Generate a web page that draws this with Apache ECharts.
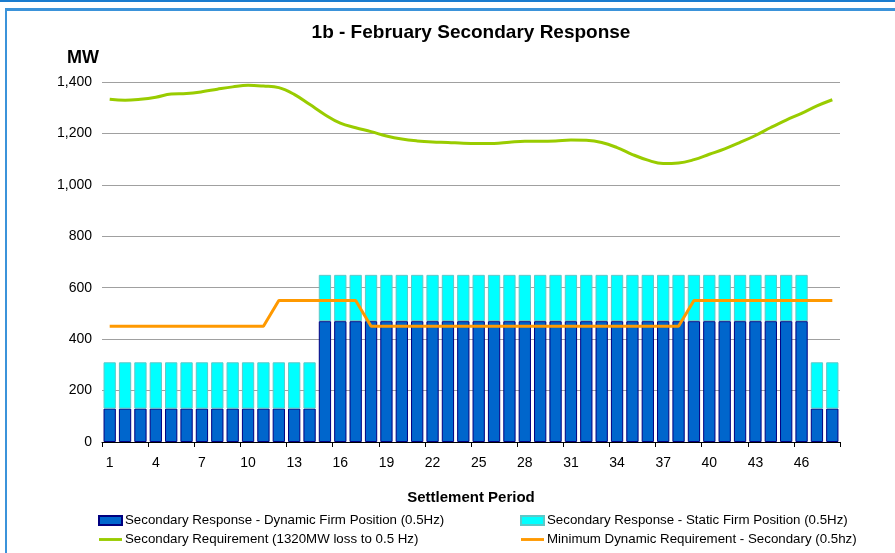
<!DOCTYPE html>
<html>
<head>
<meta charset="utf-8">
<script src="https://cdn.jsdelivr.net/npm/echarts@6/dist/echarts.min.js"></script>
<style>
  html, body { margin: 0; padding: 0; background: #fff; }
  #chart { width: 895px; height: 553px; }
</style>
</head>
<body>
<div id="chart"></div>
<script>
// settlement periods 1..48
const periods = []
for (let i = 1; i <= 48; i++) periods.push(String(i))

const dynamicFirm = [
  130, 130, 130, 130, 130, 130, 130, 130, 130, 130, 130, 130, 130, 130,
  470, 470, 470, 470, 470, 470, 470, 470, 470, 470, 470, 470, 470, 470, 470, 470,
  470, 470, 470, 470, 470, 470, 470, 470, 470, 470, 470, 470, 470, 470, 470, 470,
  130, 130
]
const staticFirm = [
  180, 180, 180, 180, 180, 180, 180, 180, 180, 180, 180, 180, 180, 180,
  180, 180, 180, 180, 180, 180, 180, 180, 180, 180, 180, 180, 180, 180, 180, 180,
  180, 180, 180, 180, 180, 180, 180, 180, 180, 180, 180, 180, 180, 180, 180, 180,
  180, 180
]
const requirement = [
  1333, 1329, 1333, 1341, 1353, 1355, 1362, 1372, 1381, 1387, 1384, 1378,
  1352, 1313, 1273, 1240, 1222, 1207, 1190, 1178, 1171, 1167, 1165, 1162,
  1161, 1161, 1166, 1170, 1170, 1171, 1174, 1173, 1165, 1145, 1118, 1096,
  1083, 1085, 1098, 1119, 1140, 1165, 1192, 1223, 1252, 1278, 1307, 1331
]
const minDynamic = [
  450, 450, 450, 450, 450, 450, 450, 450, 450, 450, 450,
  550, 550, 550, 550, 550, 550,
  450, 450, 450, 450, 450, 450, 450, 450, 450, 450, 450, 450, 450, 450, 450,
  450, 450, 450, 450, 450, 450,
  550, 550, 550, 550, 550, 550, 550, 550, 550, 550
]

const names = [
  'Secondary Response - Dynamic Firm Position (0.5Hz)',
  'Secondary Response - Static Firm Position (0.5Hz)',
  'Secondary Requirement (1320MW loss to 0.5 Hz)',
  'Minimum Dynamic Requirement - Secondary (0.5hz)'
]

const font = 'Liberation Sans, Arial, sans-serif'
const lineIcon = 'path://M0,0 L24,0 L24,3 L0,3 Z'

const legendBase = {
  orient: 'vertical',
  top: 514,
  height: 60,
  padding: 0,
  itemWidth: 23,
  itemHeight: 9,
  itemGap: 6,
  textStyle: { fontSize: 13.3, color: '#000', padding: [0, 0, 0, -2] }
}

const chart = echarts.init(document.getElementById('chart'))
chart.setOption({
  animation: false,
  textStyle: { fontFamily: font },
  title: [
    {
      text: '1b - February Secondary Response',
      left: 466,
      textAlign: 'center',
      top: 18,
      textStyle: { fontSize: 19, fontWeight: 'bold', color: '#000' }
    },
    {
      text: 'MW',
      left: 62,
      top: 44,
      textStyle: { fontSize: 18, fontWeight: 'bold', color: '#000' }
    }
  ],
  grid: { left: 102, right: 55, top: 82, bottom: 111 },
  legend: [
    Object.assign({}, legendBase, {
      left: 98,
      data: [{ name: names[0], icon: 'rect' }, { name: names[2], icon: lineIcon }]
    }),
    Object.assign({}, legendBase, {
      left: 520,
      data: [{ name: names[1], icon: 'rect' }, { name: names[3], icon: lineIcon }]
    })
  ],
  xAxis: {
    type: 'category',
    data: periods,
    name: 'Settlement Period',
    nameLocation: 'middle',
    nameGap: 48,
    nameTextStyle: { fontSize: 15, fontWeight: 'bold', color: '#000' },
    axisLine: { lineStyle: { color: '#000', width: 1 } },
    axisTick: { show: true, interval: 2, length: 5, lineStyle: { color: '#000' } },
    axisLabel: { interval: 2, margin: 14, fontSize: 14, color: '#000' }
  },
  yAxis: {
    type: 'value',
    min: 0,
    max: 1400,
    interval: 200,
    axisLine: { show: false },
    axisTick: { show: false },
    axisLabel: {
      fontSize: 14,
      color: '#000',
      margin: 10,
      formatter: v => v.toLocaleString('en-US')
    },
    splitLine: { lineStyle: { color: '#a0a0a0', width: 1 } }
  },
  series: [
    {
      name: names[0],
      type: 'bar',
      stack: 'firm',
      data: dynamicFirm,
      barCategoryGap: '20%',
      itemStyle: { color: '#0066cc', borderColor: '#000080', borderWidth: 1 }
    },
    {
      name: names[1],
      type: 'bar',
      stack: 'firm',
      data: staticFirm,
      itemStyle: { color: '#00ffff', borderColor: '#5cc8c8', borderWidth: 1 }
    },
    {
      name: names[2],
      type: 'line',
      data: requirement,
      smooth: 0.4,
      symbol: 'none',
      lineStyle: { color: '#99cc00', width: 3 },
      itemStyle: { color: '#99cc00' }
    },
    {
      name: names[3],
      type: 'line',
      data: minDynamic,
      symbol: 'none',
      lineStyle: { color: '#ff9900', width: 3 },
      itemStyle: { color: '#ff9900' }
    }
  ],
  graphic: [
    { type: 'rect', shape: { x: 0, y: 0, width: 895, height: 2 }, style: { fill: '#1a7ccf' }, silent: true },
    { type: 'rect', shape: { x: 5, y: 8, width: 890, height: 3 }, style: { fill: '#3b93da' }, silent: true },
    { type: 'rect', shape: { x: 5, y: 8, width: 2, height: 545 }, style: { fill: '#3b93da' }, silent: true }
  ]
})
</script>
</body>
</html>
